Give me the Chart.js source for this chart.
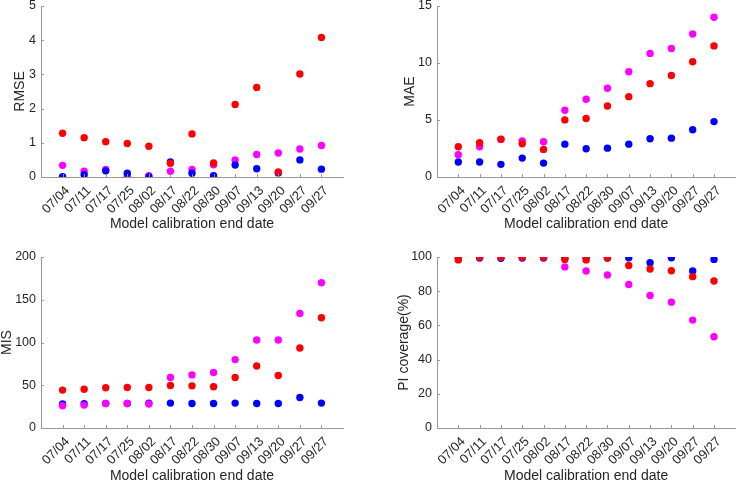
<!DOCTYPE html>
<html>
<head>
<meta charset="utf-8">
<script src="https://cdn.jsdelivr.net/npm/chart.js@4/dist/chart.umd.min.js"></script>
<style>
  html, body { margin: 0; padding: 0; background: #fff; }
  #wrap { position: relative; width: 739px; height: 481px; overflow: hidden; }
  #wrap canvas { position: absolute; }
</style>
</head>
<body>
<div id="wrap">
  <canvas id="c1" width="370" height="240" style="left:0;top:0"></canvas>
  <canvas id="c2" width="369" height="240" style="left:370px;top:0"></canvas>
  <canvas id="c3" width="370" height="241" style="left:0;top:240px"></canvas>
  <canvas id="c4" width="369" height="241" style="left:370px;top:240px"></canvas>
</div>
<script>
// ---- data ----
const dates = ['07/04','07/11','07/17','07/25','08/02','08/17','08/22','08/30','09/07','09/13','09/20','09/27','09/27'];

const rmseRed     = [1.28, 1.15, 1.03, 0.98, 0.90, 0.40, 1.26, 0.41, 2.12, 2.62, 0.15, 3.01, 4.08];
const rmseMagenta = [0.34, 0.17, 0.22, 0.02, 0.04, 0.17, 0.22, 0.36, 0.50, 0.66, 0.70, 0.82, 0.92];
const rmseBlue    = [0.01, 0.07, 0.18, 0.11, 0.00, 0.44, 0.11, 0.04, 0.35, 0.24, 0.12, 0.50, 0.23];

const maeRed     = [2.65, 3.00, 3.32, 2.91, 2.42, 5.01, 5.13, 6.23, 7.05, 8.19, 8.91, 10.11, 11.50];
const maeMagenta = [1.95, 2.65, 3.30, 3.17, 3.09, 5.85, 6.82, 7.78, 9.23, 10.84, 11.27, 12.55, 14.01];
const maeBlue    = [1.31, 1.31, 1.11, 1.66, 1.22, 2.88, 2.48, 2.53, 2.88, 3.35, 3.41, 4.14, 4.86];

const misRed     = [44.3, 45.4, 47.0, 47.4, 47.4, 49.7, 49.3, 48.2, 59.0, 72.6, 61.4, 93.6, 128.9];
const misMagenta = [26.0, 26.8, 28.7, 28.7, 28.0, 59.0, 62.1, 64.9, 80.0, 102.9, 102.9, 134.0, 170.0];
const misBlue    = [28.0, 28.3, 28.7, 28.7, 29.1, 29.1, 28.7, 28.7, 29.1, 28.7, 28.7, 35.7, 29.1];

const piRed     = [98.3, 100, 100, 100, 100, 98.6, 98.3, 99.4, 95.0, 93.0, 92.0, 88.5, 86.0];
const piMagenta = [100, 100, 100, 100, 100, 94.2, 91.8, 89.5, 83.9, 77.5, 73.6, 63.1, 53.4];
const piBlue    = [99.6, 99.4, 99.2, 99.4, 99.4, 99.6, 99.6, 99.4, 99.6, 96.7, 99.6, 91.8, 98.6];

const xTitle = 'Model calibration end date';

// ---- styling ----
const FONT = '"Liberation Sans", Arial, Helvetica, sans-serif';
const TEXT = '#262626';
const AXIS = '#999999';
const COLORS = { red: '#ff0000', magenta: '#ff00ff', blue: '#0000ff' };

const innerTicks = {
  id: 'innerTicks',
  afterDraw(chart) {
    const ctx = chart.ctx;
    const xs = chart.scales.x, ys = chart.scales.y;
    const ca = chart.chartArea;
    ctx.save();
    ctx.strokeStyle = AXIS;
    ctx.lineWidth = 1;
    ctx.beginPath();
    xs.ticks.forEach(t => {
      const px = Math.round(xs.getPixelForValue(t.value)) + 0.5;
      ctx.moveTo(px, ca.bottom);
      ctx.lineTo(px, ca.bottom - 3);
    });
    ys.ticks.forEach(t => {
      const py = Math.round(ys.getPixelForValue(t.value)) + 0.5;
      ctx.moveTo(ca.left, py);
      ctx.lineTo(ca.left + 3, py);
    });
    ctx.stroke();
    ctx.restore();
  }
};

function toPoints(arr) { return arr.map((v, i) => ({ x: i + 1, y: v })); }

function makePanel(id, cfg) {
  const datasets = cfg.series.map(s => ({
    data: toPoints(s.values),
    backgroundColor: COLORS[s.color],
    borderWidth: 0,
    pointRadius: 3.7,
    pointHoverRadius: 3.7
  }));
  new Chart(document.getElementById(id), {
    type: 'scatter',
    data: { datasets },
    plugins: [innerTicks],
    options: {
      responsive: false,
      animation: false,
      events: [],
      layout: { padding: { top: cfg.padTop, right: cfg.padRight, left: 0, bottom: 0 } },
      plugins: { legend: { display: false }, tooltip: { enabled: false } },
      scales: {
        x: {
          type: 'linear', min: 0, max: dates.length + 1,
          afterBuildTicks: s => { s.ticks = dates.map((d, i) => ({ value: i + 1 })); },
          afterFit: s => { s.height = cfg.xHeight; s.paddingLeft = 0; s.paddingRight = 0; s.paddingTop = 0; s.paddingBottom = 0; },
          grid: { display: false, drawTicks: false },
          border: { display: true, color: AXIS, width: 1 },
          ticks: {
            autoSkip: false, minRotation: 45, maxRotation: 45, padding: 6, labelOffset: 5,
            color: TEXT, font: { family: FONT, size: 13 },
            callback: v => dates[v - 1] ?? ''
          },
          title: { display: true, text: xTitle, color: TEXT, font: { family: FONT, size: 14 },
                   padding: { top: 0, bottom: cfg.xTitlePad } }
        },
        y: {
          min: 0, max: cfg.yMax,
          afterFit: s => { s.width = cfg.yWidth; s.paddingTop = 0; s.paddingBottom = 0; s.paddingLeft = 0; s.paddingRight = 0; },
          grid: { display: false, drawTicks: false },
          border: { display: true, color: AXIS, width: 1 },
          ticks: { stepSize: cfg.yStep, padding: 5, color: TEXT, font: { family: FONT, size: 12.5 } },
          title: { display: true, text: cfg.yTitle, color: TEXT, font: { family: FONT, size: 14 },
                   padding: { top: cfg.yTitlePad, bottom: 0 } }
        }
      }
    }
  });
}

makePanel('c1', {
  yMax: 5, yStep: 1, yTitle: 'RMSE', yTitlePad: 12, xTitlePad: 7.6,
  yWidth: 41, xHeight: 63, padTop: 6, padRight: 27,
  series: [ { values: rmseRed, color: 'red' }, { values: rmseBlue, color: 'blue' }, { values: rmseMagenta, color: 'magenta' } ]
});
makePanel('c2', {
  yMax: 15, yStep: 5, yTitle: 'MAE', yTitlePad: 31.6, xTitlePad: 7.6,
  yWidth: 67, xHeight: 63, padTop: 6, padRight: 1,
  series: [ { values: maeRed, color: 'red' }, { values: maeMagenta, color: 'magenta' }, { values: maeBlue, color: 'blue' } ]
});
makePanel('c3', {
  yMax: 200, yStep: 50, yTitle: 'MIS', yTitlePad: -1.4, xTitlePad: -3.4,
  yWidth: 41, xHeight: 53, padTop: 17, padRight: 27,
  series: [ { values: misRed, color: 'red' }, { values: misMagenta, color: 'magenta' }, { values: misBlue, color: 'blue' } ]
});
makePanel('c4', {
  yMax: 100, yStep: 20, yTitle: 'PI coverage(%)', yTitlePad: 25.6, xTitlePad: -3.4,
  yWidth: 67, xHeight: 53, padTop: 17, padRight: 1,
  series: [ { values: piRed, color: 'red' }, { values: piMagenta, color: 'magenta' }, { values: piBlue, color: 'blue' } ]
});
</script>
</body>
</html>
